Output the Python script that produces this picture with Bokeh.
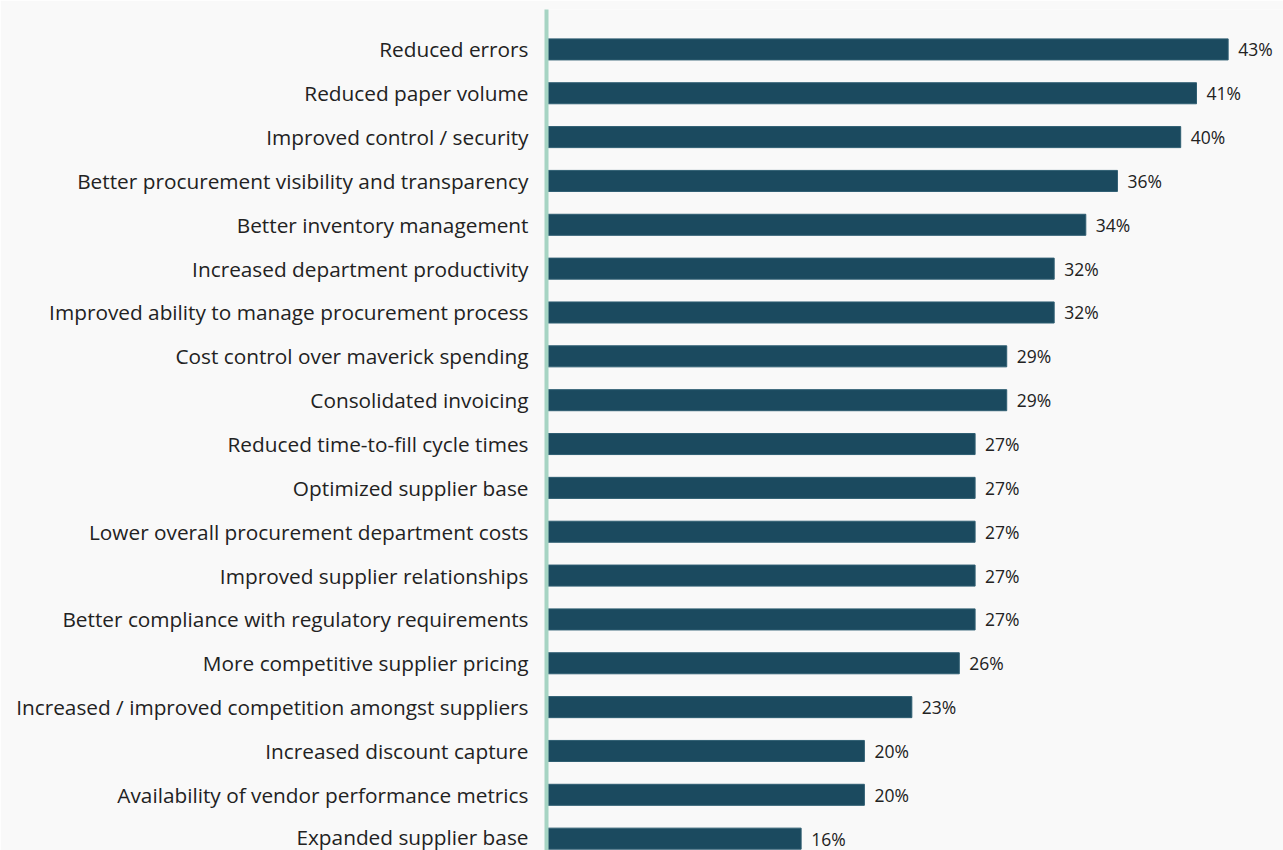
from bokeh.plotting import figure
from bokeh.models import ColumnDataSource, Range1d, FixedTicker
from bokeh.embed import file_html
from bokeh.resources import INLINE
from bokeh.core.properties import value

categories = [
    "Reduced errors",
    "Reduced paper volume",
    "Improved control / security",
    "Better procurement visibility and transparency",
    "Better inventory management",
    "Increased department productivity",
    "Improved ability to manage procurement process",
    "Cost control over maverick spending",
    "Consolidated invoicing",
    "Reduced time-to-fill cycle times",
    "Optimized supplier base",
    "Lower overall procurement department costs",
    "Improved supplier relationships",
    "Better compliance with regulatory requirements",
    "More competitive supplier pricing",
    "Increased / improved competition amongst suppliers",
    "Increased discount capture",
    "Availability of vendor performance metrics",
    "Expanded supplier base",
]
values = [43, 41, 40, 36, 34, 32, 32, 29, 29, 27, 27, 27, 27, 27, 26, 23, 20, 20, 16]

ypos = list(range(len(categories)))
labels = [f"{v}%" for v in values]
src = ColumnDataSource(dict(y=ypos, v=values, lab=labels))

p = figure(width=1283, height=850, output_backend="svg", toolbar_location=None,
           x_range=Range1d(-0.1, 46.5), y_range=Range1d(18.27, -0.91),
           x_axis_location=None, min_border_left=546, min_border_top=9,
           min_border_bottom=0, min_border_right=0,
           background_fill_color="#f9f9f9", border_fill_color="#f9f9f9")
p.outline_line_color = None
p.grid.visible = False

p.hbar(y="y", left=0, right="v", height=0.48, source=src,
       fill_color="#1b4a5f", line_color="#2f5e72", line_width=1)
p.text(x="v", y="y", text="lab", source=src, x_offset=10,
       text_font=value("Open Sans"), text_font_size="17.5px", text_color="#222222",
       text_baseline="middle", text_align="left")

ax = p.yaxis[0]
ax.ticker = FixedTicker(ticks=ypos)
ax.major_label_overrides = {i: c for i, c in zip(ypos, categories)}
ax.major_tick_line_color = None
ax.minor_tick_line_color = None
ax.axis_line_color = "#a6d4c3"
ax.axis_line_width = 4
ax.major_label_standoff = 12
ax.major_label_text_font = "Open Sans"
ax.major_label_text_font_size = "20.8px"
ax.major_label_text_color = "#222222"

open("out.html", "w").write(file_html(p, INLINE))
